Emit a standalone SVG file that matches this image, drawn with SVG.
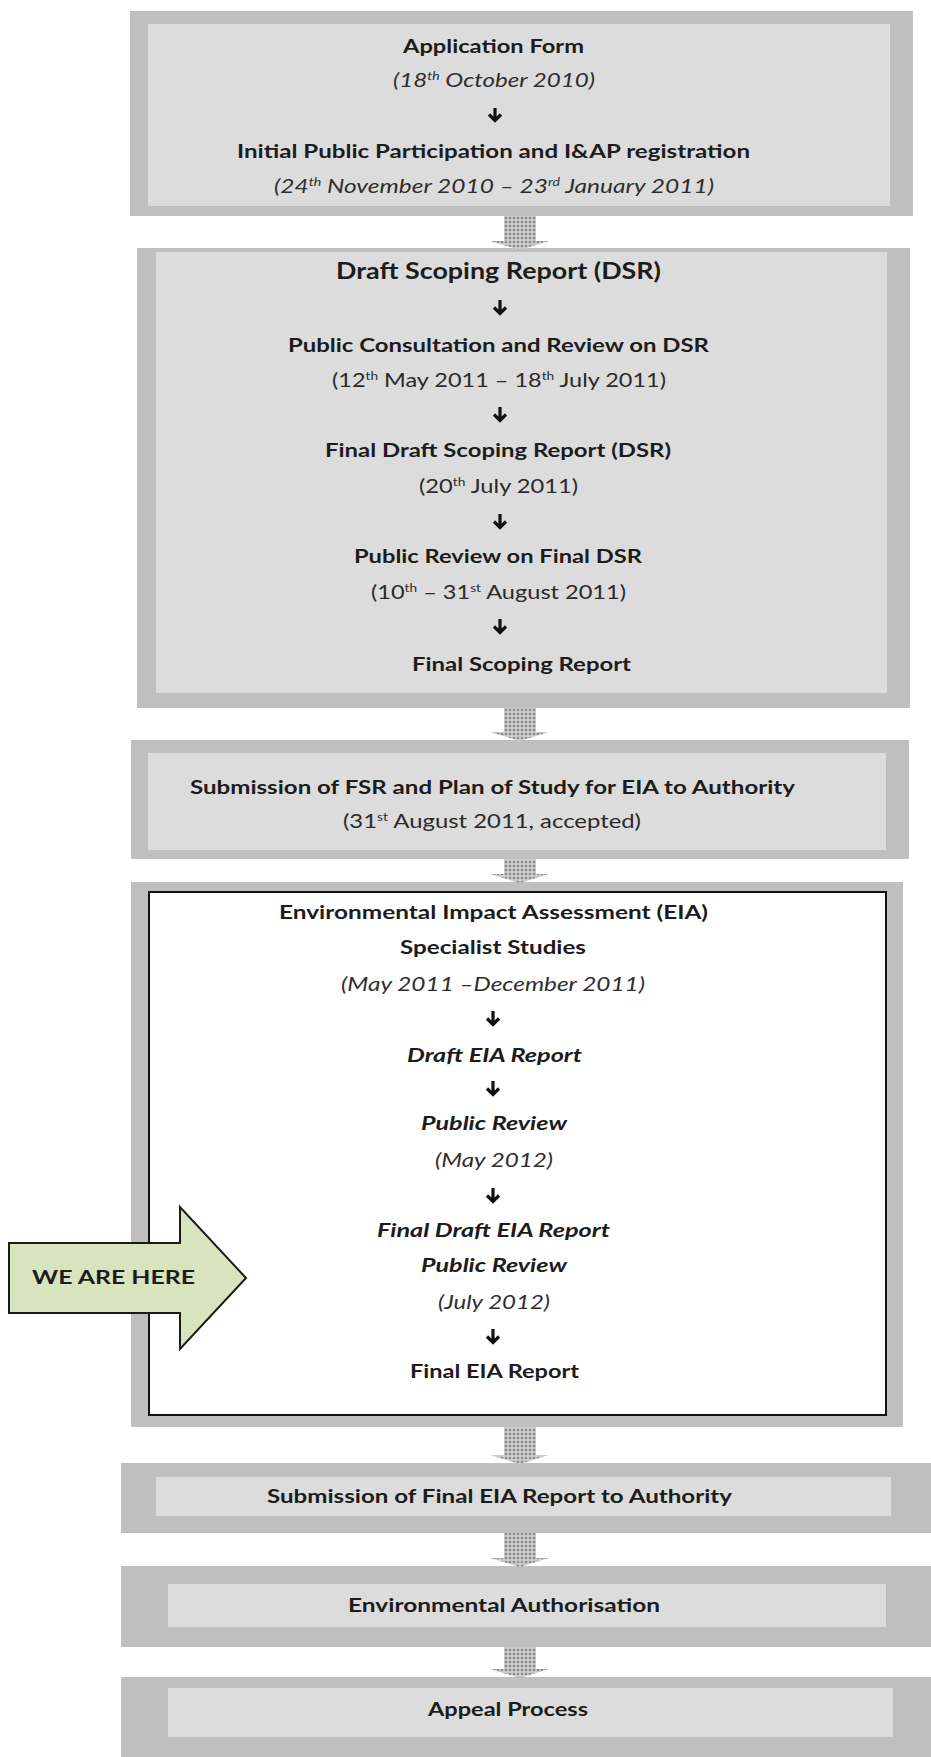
<svg xmlns="http://www.w3.org/2000/svg" width="931" height="1757" viewBox="0 0 931 1757">
<style>
  .outer { fill: #bfbfbf; }
  .inner { fill: #dcdcdc; }
  .b { font-family: Lato, "Liberation Sans", sans-serif; font-weight: 700; font-size: 19.5px; fill: #1c1c1c; }
  .bi { font-family: Lato, "Liberation Sans", sans-serif; font-weight: 700; font-style: italic; font-size: 19px; fill: #1c1c1c; }
  .r { font-family: Lato, "Liberation Sans", sans-serif; font-weight: 400; font-size: 19px; fill: #2a2a2a; }
  .i { font-family: Lato, "Liberation Sans", sans-serif; font-weight: 400; font-style: italic; font-size: 19px; fill: #2e2e2e; }
  .sup { font-size: 11px; }
  .step { fill: none; stroke: #111; stroke-width: 3.2; stroke-linecap: butt; stroke-linejoin: miter; }
  .flow { fill: url(#dots); stroke: none; }
</style>
<defs>
  <pattern id="dots" width="4" height="4" patternUnits="userSpaceOnUse">
    <rect width="4" height="4" fill="#cdcdcd"/>
    <circle cx="2" cy="2" r="1.3" fill="#8c8c8c"/>
  </pattern>
</defs>

<rect x="0" y="0" width="931" height="1757" fill="#ffffff"/>

<g id="node-application">
  <rect class="outer" x="130" y="11" width="783" height="205"/>
  <rect class="inner" x="148" y="24" width="742" height="182"/>
  <text class="b" x="403" y="53" textLength="181" lengthAdjust="spacingAndGlyphs">Application Form</text>
  <text class="i" x="393" y="87" textLength="202" lengthAdjust="spacingAndGlyphs">(18<tspan class="sup" dy="-7">th</tspan><tspan dy="7"> October 2010)</tspan></text>
  <text class="b" x="237" y="158" textLength="513" lengthAdjust="spacingAndGlyphs">Initial Public Participation and I&amp;AP registration</text>
  <text class="i" x="274" y="193" textLength="440" lengthAdjust="spacingAndGlyphs">(24<tspan class="sup" dy="-7">th</tspan><tspan dy="7"> November 2010 – 23</tspan><tspan class="sup" dy="-7">rd</tspan><tspan dy="7"> January 2011)</tspan></text>
</g>

<g id="node-scoping">
  <rect class="outer" x="137" y="248" width="773" height="460"/>
  <rect class="inner" x="156" y="252" width="731" height="441"/>
  <text class="b" style="font-size:23px" x="336" y="279" textLength="325" lengthAdjust="spacingAndGlyphs">Draft Scoping Report (DSR)</text>
  <text class="b" style="font-size:19px" x="288" y="352" textLength="421" lengthAdjust="spacingAndGlyphs">Public Consultation and Review on DSR</text>
  <text class="r" style="font-size:19px" x="332" y="387" textLength="334" lengthAdjust="spacingAndGlyphs">(12<tspan class="sup" dy="-7">th</tspan><tspan dy="7"> May 2011 – 18</tspan><tspan class="sup" dy="-7">th</tspan><tspan dy="7"> July 2011)</tspan></text>
  <text class="b" style="font-size:19px" x="325" y="457" textLength="346" lengthAdjust="spacingAndGlyphs">Final Draft Scoping Report (DSR)</text>
  <text class="r" style="font-size:19px" x="419" y="493" textLength="159" lengthAdjust="spacingAndGlyphs">(20<tspan class="sup" dy="-7">th</tspan><tspan dy="7"> July 2011)</tspan></text>
  <text class="b" style="font-size:19px" x="354" y="563" textLength="288" lengthAdjust="spacingAndGlyphs">Public Review on Final DSR</text>
  <text class="r" style="font-size:19px" x="371" y="599" textLength="255" lengthAdjust="spacingAndGlyphs">(10<tspan class="sup" dy="-7">th</tspan><tspan dy="7"> – 31</tspan><tspan class="sup" dy="-7">st</tspan><tspan dy="7"> August 2011)</tspan></text>
  <text class="b" style="font-size:19px" x="412" y="671" textLength="219" lengthAdjust="spacingAndGlyphs">Final Scoping Report</text>
</g>

<g id="node-submission-fsr">
  <rect class="outer" x="131" y="740" width="778" height="119"/>
  <rect class="inner" x="148" y="753" width="738" height="97"/>
  <text class="b" style="font-size:19px" x="190" y="794" textLength="605" lengthAdjust="spacingAndGlyphs">Submission of FSR and Plan of Study for EIA to Authority</text>
  <text class="r" style="font-size:19px" x="343" y="828" textLength="298" lengthAdjust="spacingAndGlyphs">(31<tspan class="sup" dy="-7">st</tspan><tspan dy="7"> August 2011, accepted)</tspan></text>
</g>

<g id="node-eia">
  <rect class="outer" x="131" y="882" width="772" height="545"/>
  <rect x="149" y="892" width="737" height="523" fill="#ffffff" stroke="#111" stroke-width="2"/>
  <text class="b" style="font-size:18.5px" x="279" y="919" textLength="429" lengthAdjust="spacingAndGlyphs">Environmental Impact Assessment (EIA)</text>
  <text class="b" style="font-size:18.5px" x="400" y="954" textLength="186" lengthAdjust="spacingAndGlyphs">Specialist Studies</text>
  <text class="i" style="font-size:18.5px" x="341" y="991" textLength="304" lengthAdjust="spacingAndGlyphs">(May 2011 –December 2011)</text>
  <text class="bi" style="font-size:18.5px" x="407" y="1062" textLength="175" lengthAdjust="spacingAndGlyphs">Draft EIA Report</text>
  <text class="bi" style="font-size:18.5px" x="421" y="1130" textLength="146" lengthAdjust="spacingAndGlyphs">Public Review</text>
  <text class="i" style="font-size:18.5px" x="435" y="1167" textLength="118" lengthAdjust="spacingAndGlyphs">(May 2012)</text>
  <text class="bi" style="font-size:18.5px" x="377" y="1237" textLength="233" lengthAdjust="spacingAndGlyphs">Final Draft EIA Report</text>
  <text class="bi" style="font-size:18.5px" x="421" y="1272" textLength="146" lengthAdjust="spacingAndGlyphs">Public Review</text>
  <text class="i" style="font-size:18.5px" x="438" y="1309" textLength="112" lengthAdjust="spacingAndGlyphs">(July 2012)</text>
  <text class="b" style="font-size:18.5px" x="410" y="1378" textLength="169" lengthAdjust="spacingAndGlyphs">Final EIA Report</text>
</g>

<g id="node-submission-eia">
  <rect class="outer" x="121" y="1463" width="810" height="70"/>
  <rect class="inner" x="156" y="1477" width="735" height="39"/>
  <text class="b" style="font-size:18.5px" x="267" y="1503" textLength="465" lengthAdjust="spacingAndGlyphs">Submission of Final EIA Report to Authority</text>
</g>

<g id="node-authorisation">
  <rect class="outer" x="121" y="1566" width="810" height="81"/>
  <rect class="inner" x="168" y="1584" width="718" height="43"/>
  <text class="b" style="font-size:18.5px" x="348" y="1612" textLength="312" lengthAdjust="spacingAndGlyphs">Environmental Authorisation</text>
</g>

<g id="node-appeal">
  <rect class="outer" x="121" y="1677" width="810" height="80"/>
  <rect class="inner" x="168" y="1688" width="725" height="49"/>
  <text class="b" style="font-size:18.5px" x="428" y="1716" textLength="160" lengthAdjust="spacingAndGlyphs">Appeal Process</text>
</g>

<g id="connectors">
  <polygon class="flow" points="504,216 536,216 536,241 549,241 520,250 490,241 504,241"/>
  <polygon class="flow" points="504,708 536,708 536,732 549,732 520,741 490,732 504,732"/>
  <polygon class="flow" points="504,859 536,859 536,874 549,874 520,883 490,874 504,874"/>
  <polygon class="flow" points="504,1427 536,1427 536,1455 549,1455 520,1464 490,1455 504,1455"/>
  <polygon class="flow" points="504,1533 536,1533 536,1558 549,1558 520,1567 490,1558 504,1558"/>
  <polygon class="flow" points="504,1647 536,1647 536,1669 549,1669 520,1678 490,1669 504,1669"/>
  <path class="step" d="M495,108 V121 M489,114.5 L495,120.5 L501,114.5"/>
  <path class="step" d="M500,300 V314 M494,307.5 L500,313.5 L506,307.5"/>
  <path class="step" d="M500,407 V421 M494,414.5 L500,420.5 L506,414.5"/>
  <path class="step" d="M500,514 V528 M494,521.5 L500,527.5 L506,521.5"/>
  <path class="step" d="M500,619 V633 M494,626.5 L500,632.5 L506,626.5"/>
  <path class="step" d="M493,1011 V1025 M487,1018.5 L493,1024.5 L499,1018.5"/>
  <path class="step" d="M493,1081 V1095 M487,1088.5 L493,1094.5 L499,1088.5"/>
  <path class="step" d="M493,1188 V1202 M487,1195.5 L493,1201.5 L499,1195.5"/>
  <path class="step" d="M493,1329 V1343 M487,1336.5 L493,1342.5 L499,1336.5"/>
</g>

<g id="node-we-are-here">
  <polygon points="9,1243 180,1243 180,1207 246,1278 180,1349 180,1313 9,1313" fill="#d8e4bd" stroke="#1a1a1a" stroke-width="2" stroke-linejoin="miter"/>
  <text class="b" style="font-size:18px" x="32" y="1284" textLength="163" lengthAdjust="spacingAndGlyphs">WE ARE HERE</text>
</g>
</svg>
